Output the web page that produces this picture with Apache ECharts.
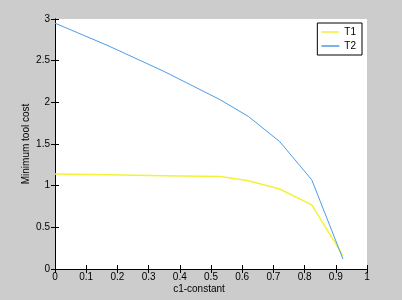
<!DOCTYPE html>
<html>
<head>
<meta charset="utf-8">
<script src="https://cdn.jsdelivr.net/npm/echarts@6/dist/echarts.min.js"></script>
<style>html,body{margin:0;padding:0;background:#cccccc;}#c{width:402px;height:300px;}</style>
</head>
<body>
<div id="c"></div>
<script>
var c1 = [0, 0.17, 0.35, 0.53, 0.62, 0.72, 0.823, 0.923];
var T1 = [1.14, 1.13, 1.12, 1.11, 1.06, 0.96, 0.77, 0.16];
var T2 = [2.95, 2.68, 2.37, 2.03, 1.83, 1.53, 1.07, 0.12];
var seriesNames = ['T1', 'T2'];
var xTitle = 'c1-constant';
var yTitle = 'Minimum tool cost';

function pairs(xs, ys) { return xs.map(function (x, i) { return [x, ys[i]]; }); }

var font = 'Liberation Sans, Arial, sans-serif';
var axisCommon = {
  axisLine: { show: true, lineStyle: { color: '#000', width: 1 } },
  axisTick: { show: true, inside: true, length: 4, lineStyle: { color: '#000' } },
  splitLine: { show: false }
};
var chart = echarts.init(document.getElementById('c'));
chart.setOption({
  backgroundColor: '#cccccc',
  animation: false,
  grid: { left: 55, right: 35, top: 19, bottom: 31, show: true, backgroundColor: '#ffffff', borderWidth: 0,
    containLabel: false, outerBoundsMode: 'none' },
  legend: {
    data: seriesNames, orient: 'vertical', right: 40, top: 23,
    backgroundColor: '#ffffff', borderColor: '#000', borderWidth: 1,
    padding: [3, 6, 3, 4], itemGap: 2, itemWidth: 18, itemHeight: 1.5, icon: 'rect',
    textStyle: { fontFamily: font, fontSize: 10, color: '#000', lineHeight: 12 }
  },
  xAxis: [
    Object.assign({ type: 'value', position: 'bottom', min: 0, max: 1, interval: 0.1,
      name: xTitle, nameLocation: 'middle', nameGap: 15, nameMoveOverlap: false,
      nameTextStyle: { fontFamily: font, fontSize: 10, color: '#000', padding: [0, 24, 0, 0] },
      axisLabel: { fontFamily: font, fontSize: 10, color: '#000', margin: 3 } }, axisCommon),
    Object.assign({ type: 'value', position: 'top', min: 0, max: 1, interval: 0.1,
      axisLabel: { show: false } }, axisCommon)
  ],
  yAxis: [
    Object.assign({ type: 'value', position: 'left', min: 0, max: 3, interval: 0.5,
      name: yTitle, nameLocation: 'middle', nameGap: 24, nameMoveOverlap: false,
      nameTextStyle: { fontFamily: font, fontSize: 10, color: '#000' },
      axisLabel: { fontFamily: font, fontSize: 10, color: '#000', margin: 5 } }, axisCommon),
    Object.assign({ type: 'value', position: 'right', min: 0, max: 3, interval: 0.5,
      axisLabel: { show: false } }, axisCommon)
  ],
  series: [
    { name: seriesNames[0], type: 'line', symbol: 'none', data: pairs(c1, T1),
      lineStyle: { color: '#f2f238', width: 1.5 }, itemStyle: { color: '#f2f238' } },
    { name: seriesNames[1], type: 'line', symbol: 'none', data: pairs(c1, T2),
      lineStyle: { color: '#4a9de6', width: 1 }, itemStyle: { color: '#4a9de6' } }
  ]
});
</script>
</body>
</html>
